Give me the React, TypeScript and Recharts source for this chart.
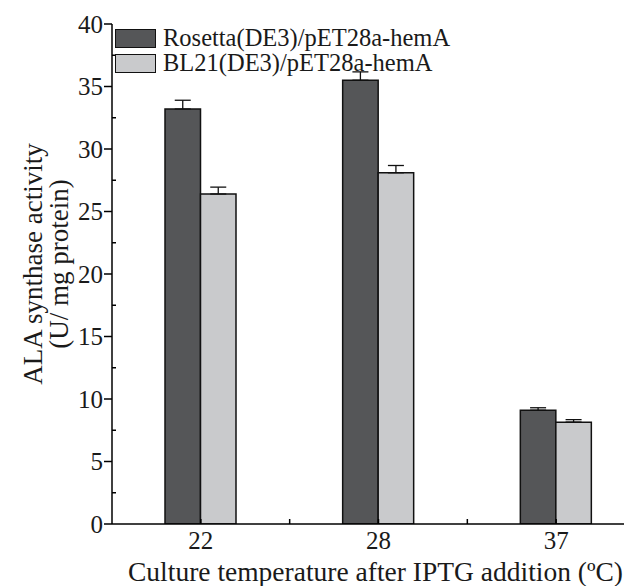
import React from 'react';
import { BarChart, Bar, XAxis, YAxis, ErrorBar, Legend } from 'recharts';

const temperatures = ['22', '28', '37'];
const rosettaValues = [33.2, 35.5, 9.1];
const rosettaErrors = [0.7, 0.67, 0.2];
const bl21Values = [26.4, 28.1, 8.15];
const bl21Errors = [0.55, 0.58, 0.2];
const yTicks = [0, 2.5, 5, 7.5, 10, 12.5, 15, 17.5, 20, 22.5, 25, 27.5, 30, 32.5, 35, 37.5, 40];
const seriesNames = ['Rosetta(DE3)/pET28a-hemA', 'BL21(DE3)/pET28a-hemA'];
const xLabel = 'Culture temperature after IPTG addition (\u00BAC)';
const yLabelLines = ['ALA synthase activity', '(U/ mg protein)'];

const data = temperatures.map((t, i) => ({
  temp: t,
  rosetta: rosettaValues[i],
  rosettaErr: [0, rosettaErrors[i]],
  bl21: bl21Values[i],
  bl21Err: [0, bl21Errors[i]],
}));

const FONT = '"Liberation Serif", "Times New Roman", serif';
const DARK = '#555658';
const LIGHT = '#c9cacc';
const TICK_FS = 25;
const TEXT = '#1a1a1a';

const YTick = (props: any) => {
  const { x, y, payload } = props;
  const axisX = x + 10;
  const v = payload.value;
  const major = Math.abs(v % 5) < 1e-6;
  if (major) {
    return (
      <g>
        <line x1={axisX - 8} x2={axisX} y1={y} y2={y} stroke="#000" strokeWidth={1.5} />
        <text x={axisX - 9} y={y} dy="0.35em" textAnchor="end" fontFamily={FONT} fontSize={TICK_FS} fill={TEXT}>
          {v}
        </text>
      </g>
    );
  }
  return <line x1={axisX} x2={axisX + 4} y1={y} y2={y} stroke="#000" strokeWidth={1.5} />;
};

const XTickBottom = (props: any) => {
  const { x, y, payload } = props;
  const off = payload.offset ?? 0;
  return (
    <g>
      <line x1={x} x2={x} y1={y} y2={y - 5} stroke="#000" strokeWidth={1.5} />
      {off > 0 && <line x1={x + off} x2={x + off} y1={y} y2={y - 5} stroke="#000" strokeWidth={1.5} />}
      <text x={x} y={y + 25} textAnchor="middle" fontFamily={FONT} fontSize={TICK_FS} fill={TEXT}>
        {payload.value}
      </text>
    </g>
  );
};

const XTickTop = (props: any) => {
  const { x, y, payload } = props;
  const off = payload.offset ?? 0;
  return (
    <g>
      <line x1={x} x2={x} y1={y} y2={y + 5} stroke="#000" strokeWidth={1.5} />
      {off > 0 && <line x1={x + off} x2={x + off} y1={y} y2={y + 5} stroke="#000" strokeWidth={1.5} />}
    </g>
  );
};

const YLabel = (props: any) => {
  const vb = props.viewBox || { x: 0, y: 16, width: 104, height: 500 };
  const cy = vb.y + vb.height / 2 - 10;
  return (
    <g>
      <text transform={`translate(34, ${cy}) rotate(-90)`} textAnchor="middle" fontFamily={FONT} fontSize={27} fill={TEXT}>
        {yLabelLines[0]}
      </text>
      <text transform={`translate(60, ${cy}) rotate(-90)`} textAnchor="middle" fontFamily={FONT} fontSize={27} fill={TEXT}>
        {yLabelLines[1]}
      </text>
    </g>
  );
};

const XLabel = (props: any) => {
  const vb = props.viewBox || { x: 104, y: 516, width: 533, height: 62 };
  return (
    <text x={vb.x + vb.width / 2 - 3} y={573} textAnchor="middle" fontFamily={FONT} fontSize={27.5} fill={TEXT}>
      {xLabel}
    </text>
  );
};

const LegendContent = (props: any) => {
  const items = [...(props.payload || [])].sort(
    (a: any, b: any) => seriesNames.indexOf(a.value) - seriesNames.indexOf(b.value)
  );
  return (
    <div style={{ fontFamily: FONT, fontSize: 24.5, color: TEXT }}>
      {items.map((it: any, i: number) => (
        <div key={i} style={{ display: 'flex', alignItems: 'center', height: 24.7 }}>
          <div
            style={{
              width: 39,
              height: 17,
              background: it.color,
              border: '1.5px solid #111',
              marginRight: 7,
              flex: 'none',
            }}
          />
          <span style={{ whiteSpace: 'nowrap', lineHeight: 1 }}>{it.value}</span>
        </div>
      ))}
    </div>
  );
};

export default function App() {
  return (
    <div style={{ width: 624, height: 578, overflow: 'hidden' }}>
      <BarChart
        width={640}
        height={578}
        data={data}
        margin={{ top: 16, right: 3, left: 0, bottom: 0 }}
        barGap={0}
      >
        <XAxis
          dataKey="temp"
          xAxisId={0}
          height={62}
          axisLine={{ stroke: '#000', strokeWidth: 1.5 }}
          tickLine={false}
          tickSize={0}
          tickMargin={0}
          tick={<XTickBottom />}
          interval={0}
          label={{ content: <XLabel /> }}
        />
        <XAxis
          dataKey="temp"
          xAxisId="top"
          orientation="top"
          height={0}
          axisLine={{ stroke: '#000', strokeWidth: 1.5 }}
          tickLine={false}
          tickSize={0}
          tickMargin={0}
          tick={<XTickTop />}
          interval={0}
        />
        <YAxis
          yAxisId={0}
          width={104}
          domain={[0, 40]}
          ticks={yTicks}
          interval={0}
          allowDataOverflow
          axisLine={{ stroke: '#000', strokeWidth: 1.5 }}
          tickLine={false}
          tickSize={8}
          tickMargin={2}
          tick={<YTick />}
          label={{ content: <YLabel /> }}
        />
        <YAxis
          yAxisId="r"
          orientation="right"
          width={0}
          domain={[0, 40]}
          allowDataOverflow
          axisLine={{ stroke: '#000', strokeWidth: 1.5 }}
          tick={false}
          tickLine={false}
        />
        <Legend
          layout="vertical"
          align="center"
          verticalAlign="middle"
          wrapperStyle={{ left: 107, top: 18, width: 'auto', height: 'auto' }}
          content={<LegendContent />}
        />
        <Bar
          dataKey="rosetta"
          name={seriesNames[0]}
          fill={DARK}
          stroke="#111"
          strokeWidth={1.5}
          barSize={35.5}
          isAnimationActive={false}
        >
          <ErrorBar dataKey="rosettaErr" width={8} stroke="#111" strokeWidth={1.3} direction="y" />
        </Bar>
        <Bar
          dataKey="bl21"
          name={seriesNames[1]}
          fill={LIGHT}
          stroke="#111"
          strokeWidth={1.5}
          barSize={35.5}
          isAnimationActive={false}
        >
          <ErrorBar dataKey="bl21Err" width={8} stroke="#111" strokeWidth={1.3} direction="y" />
        </Bar>
      </BarChart>
    </div>
  );
}
